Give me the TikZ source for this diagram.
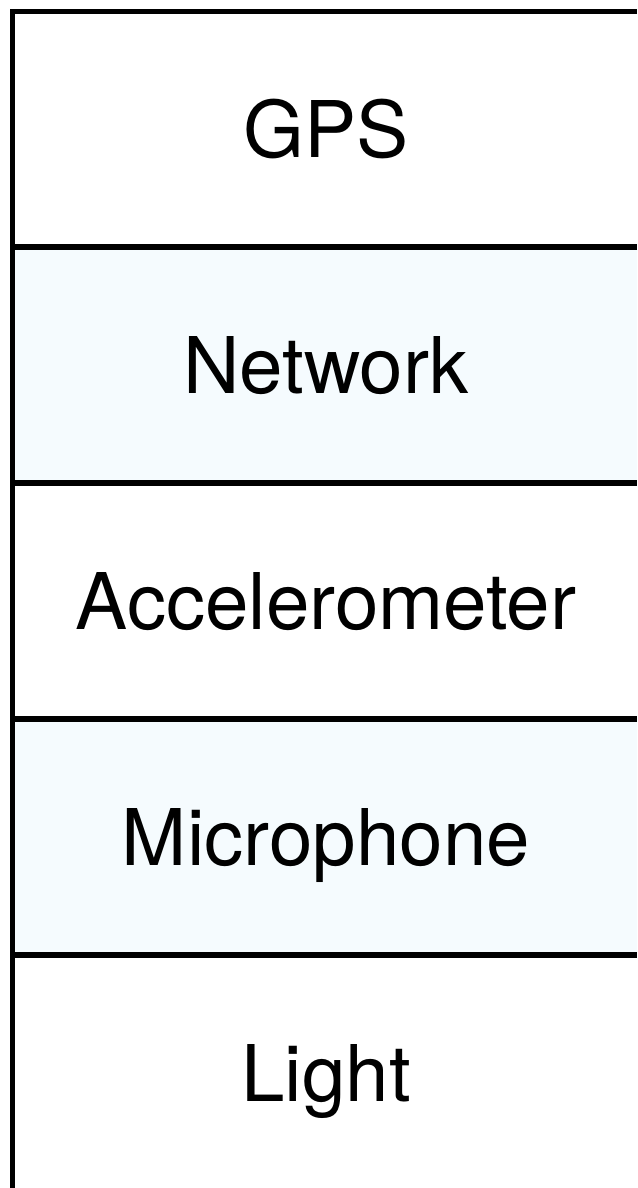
\documentclass[tikz,border=0pt]{standalone}
\usepackage{fontspec}
\setmainfont{TeX Gyre Heros}
\usetikzlibrary{positioning}
\definecolor{paleblue}{HTML}{F5FBFE}
\tikzset{sensor/.style={anchor=base,font=\fontsize{44.5}{50}\selectfont},
  rule/.style={line width=3pt}}
\begin{document}
\begin{tikzpicture}[x=0.02cm,y=0.02cm]
\useasboundingbox (0,0) rectangle (637,1188);
% shaded rows
\fill[paleblue] (12.5,941) rectangle (637,705);\fill[paleblue] (12.5,469) rectangle (637,233);
% frame and row separators
\draw[rule] (12.5,0)--(12.5,1176.5)--(637,1176.5);
\foreach \y in {941,705,469,233} \draw[rule] (12.5,\y)--(637,\y);
\node[sensor] (gps) at (326,1030){GPS};
\node[sensor] (network) at (326,794){Network};
\node[sensor] (accel) at (326,558){Accelerometer};
\node[sensor] (mic) at (326,322){Microphone};
\node[sensor] (light) at (326,86){Light};
\end{tikzpicture}
\end{document}
